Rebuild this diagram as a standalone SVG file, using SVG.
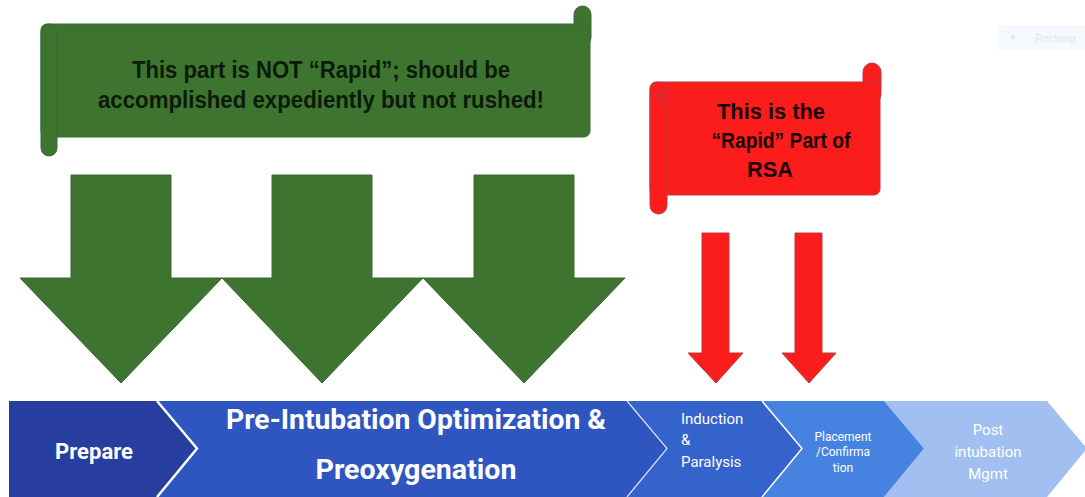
<svg xmlns="http://www.w3.org/2000/svg" width="1085" height="497" viewBox="0 0 1085 497">
<style>
.gtxt{font-family:"Liberation Sans",Arial,sans-serif;font-weight:bold;font-size:23px;fill:#0d1a08;text-anchor:middle}
.rtxt{font-family:"Liberation Sans",Arial,sans-serif;font-weight:bold;font-size:22px;fill:#1a0505;text-anchor:middle}
.ctxt{font-family:Roboto,"Liberation Sans",sans-serif;fill:#ffffff}
.green{fill:#3d7430;stroke:#3a6a34;stroke-width:1}
.red{fill:#fb1c1c;stroke:#b83a44;stroke-width:1}
.sep{fill:none;stroke:#ffffff}
</style>
<rect width="1085" height="497" fill="#ffffff"/>
<g id="faint-rect">
<rect x="998" y="25" width="87" height="25" fill="#f5f8fd"/>
<circle cx="1013" cy="37" r="2.5" fill="#e6ebf3"/>
<text x="1035" y="42" font-family="'Liberation Sans',sans-serif" font-size="11" fill="#e3e7ee">Rectang</text>
</g>
<g id="green-banner">
<rect x="574" y="6" width="17" height="40" rx="8.5" class="green" fill="#356a2c"/>
<rect x="41" y="24" width="549" height="113" rx="6" class="green"/>
<rect x="41" y="24" width="16" height="132" rx="8" class="green"/>
<path d="M52,32 q-3,6 0,14" fill="none" stroke="#4f6a48" stroke-width="2"/>
<text class="gtxt" x="321" y="78" textLength="378" lengthAdjust="spacingAndGlyphs">This part is NOT “Rapid”; should be</text>
<text class="gtxt" x="321" y="108" textLength="446" lengthAdjust="spacingAndGlyphs">accomplished expediently but not rushed!</text>
</g>
<g id="red-banner">
<rect x="863" y="63" width="18" height="40" rx="9" class="red" fill="#c82a2a"/>
<rect x="650" y="82" width="230" height="113" rx="6" class="red"/>
<rect x="650" y="82" width="17" height="132" rx="8.5" class="red"/>
<path d="M661,90 q-3,6 0,14" fill="none" stroke="#a04050" stroke-width="2"/>
<text class="rtxt" x="771" y="119" textLength="108" lengthAdjust="spacingAndGlyphs">This is the</text>
<text class="rtxt" x="781" y="148" textLength="139" lengthAdjust="spacingAndGlyphs">“Rapid” Part of</text>
<text class="rtxt" x="770" y="177" textLength="46" lengthAdjust="spacingAndGlyphs">RSA</text>
</g>
<g id="green-arrows">
<polygon id="garrow1" class="green" points="71,175 171,175 171,278 222,278 121,383 20,278 71,278"/>
<polygon id="garrow2" class="green" points="272,175 372,175 372,278 423,278 322,383 222,278 272,278"/>
<polygon id="garrow3" class="green" points="474,175 574,175 574,278 625,278 524,383 423,278 474,278"/>
</g>
<g id="red-arrows">
<polygon id="rarrow1" class="red" points="702,233 729,233 729,353 743,353 716,383 688,353 702,353"/>
<polygon id="rarrow2" class="red" points="795,233 822,233 822,353 836,353 809,383 782,353 795,353"/>
</g>
<g id="chevrons">
<g id="post">
<polygon points="884,401 1047,401 1087,448.5 1047,497 884,497 924,448.5" fill="#a2bff2"/>
<text class="ctxt" x="988" y="435" font-size="15" text-anchor="middle" fill="#e4ecfb">Post</text>
<text class="ctxt" x="988" y="457" font-size="15" text-anchor="middle" fill="#e4ecfb">intubation</text>
<text class="ctxt" x="988" y="479" font-size="15" text-anchor="middle" fill="#e4ecfb">Mgmt</text>
</g>
<g id="placement">
<polygon points="762,401 884,401 924,448.5 884,497 762,497 802,448.5" fill="#4683e1"/>
<text class="ctxt" x="843" y="441" font-size="12" text-anchor="middle">Placement</text>
<text class="ctxt" x="843" y="456" font-size="12" text-anchor="middle">/Confirma</text>
<text class="ctxt" x="843" y="472" font-size="12" text-anchor="middle">tion</text>
</g>
<g id="induction">
<polygon points="627,401 762,401 802,448.5 762,497 627,497 667,448.5" fill="#3563cc"/>
<text class="ctxt" x="681" y="424" font-size="15">Induction</text>
<text class="ctxt" x="681" y="445" font-size="15">&amp;</text>
<text class="ctxt" x="681" y="467" font-size="15">Paralysis</text>
</g>
<g id="pre-intubation">
<polygon points="157,401 627,401 667,448.5 627,497 157,497 197,448.5" fill="#2f56c0"/>
<text class="ctxt" x="416" y="429" font-size="28" font-weight="bold" text-anchor="middle" textLength="380" lengthAdjust="spacingAndGlyphs">Pre-Intubation Optimization &amp;</text>
<text class="ctxt" x="416" y="479" font-size="28" font-weight="bold" text-anchor="middle" textLength="201" lengthAdjust="spacingAndGlyphs">Preoxygenation</text>
</g>
<g id="prepare">
<polygon points="9,401 157,401 197,448.5 157,497 9,497" fill="#283e9f"/>
<text class="ctxt" x="94" y="459" font-size="22" font-weight="bold" text-anchor="middle" textLength="78" lengthAdjust="spacingAndGlyphs">Prepare</text>
</g>
<g id="separators">
<polyline class="sep" stroke-width="2.5" points="157,401 197,448.5 157,497"/>
<polyline class="sep" stroke-width="1.2" stroke-opacity="0.8" points="627,401 667,448.5 627,497"/>
<polyline class="sep" stroke-width="1.5" points="762,401 802,448.5 762,497"/>
</g>
</g>
</svg>
